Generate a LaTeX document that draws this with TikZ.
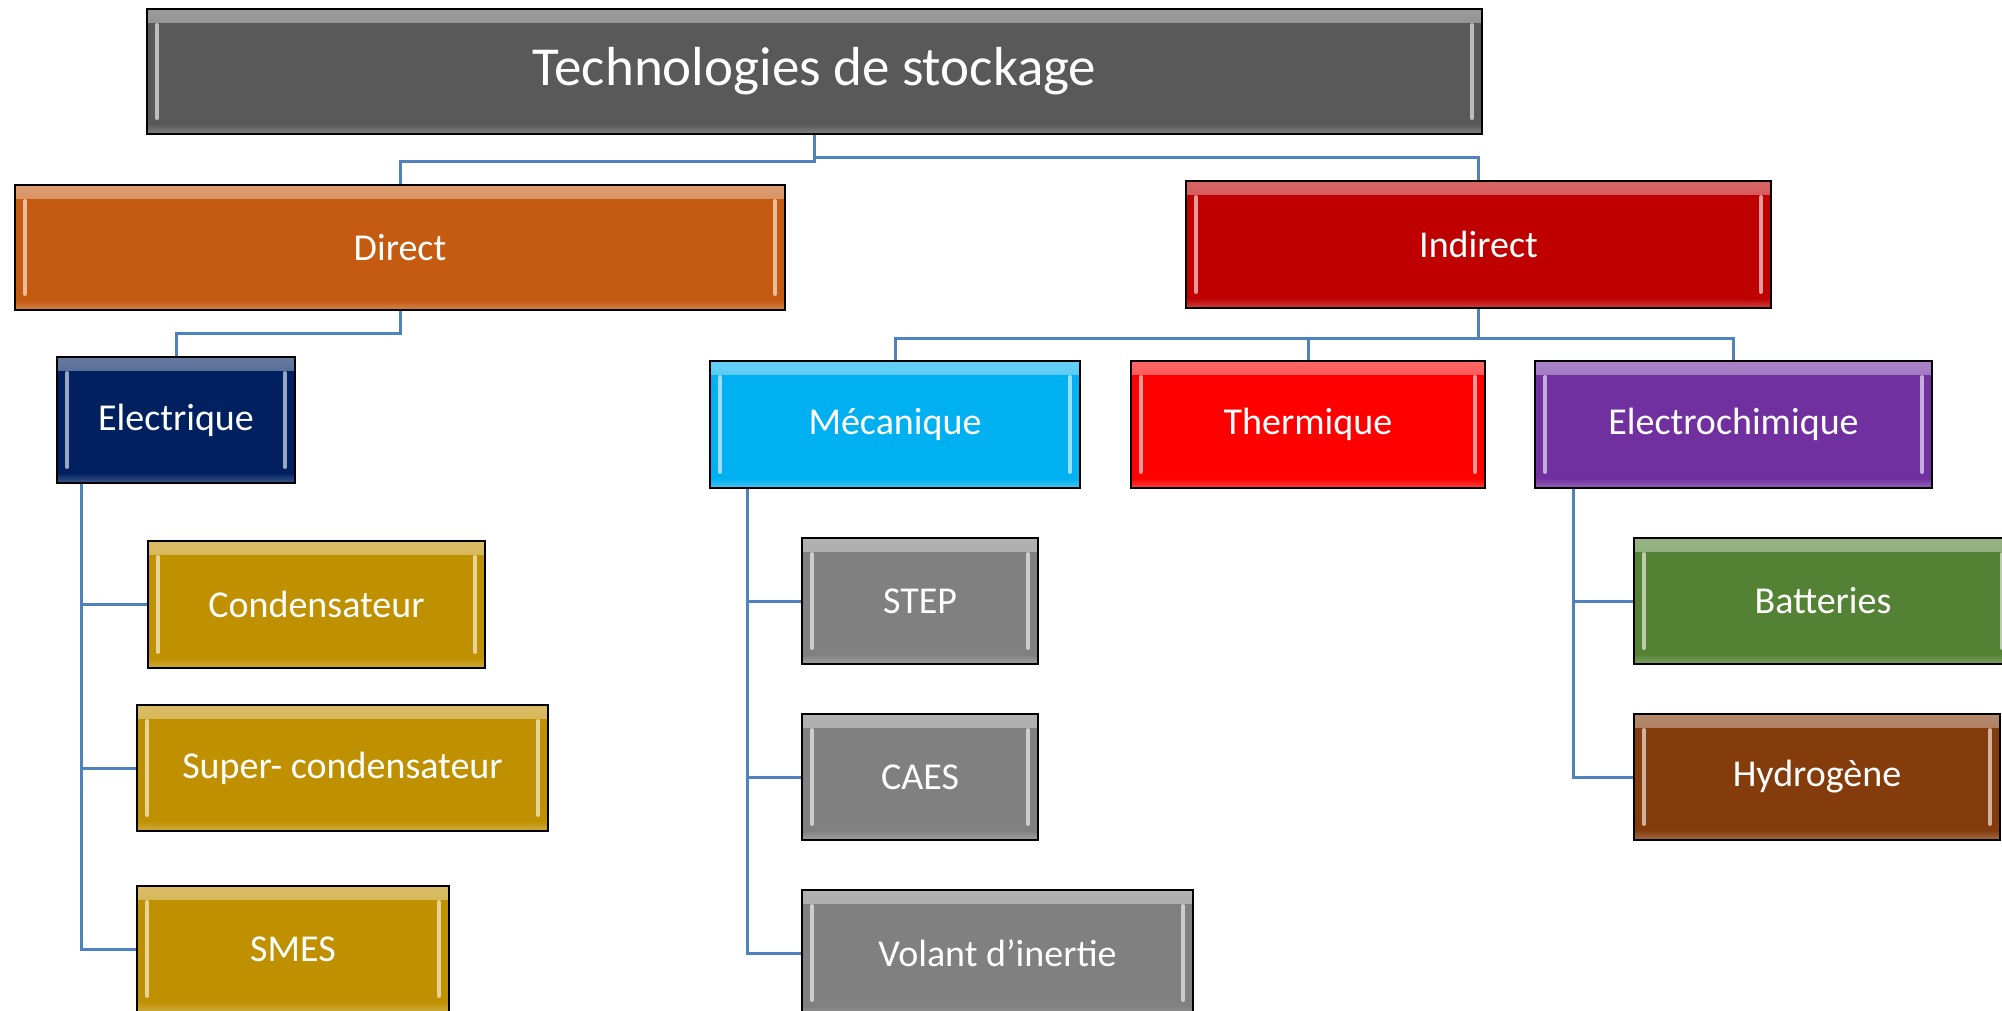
\documentclass[tikz,border=0pt]{standalone}
\usepackage{fontspec}
\setmainfont{Carlito}
\usetikzlibrary{calc}
\definecolor{titlegray}{RGB}{89,89,89}
\definecolor{directorange}{RGB}{197,90,17}
\definecolor{indirectred}{RGB}{190,0,0}
\definecolor{elecblue}{RGB}{0,32,96}
\definecolor{mecacyan}{RGB}{0,176,240}
\definecolor{thermred}{RGB}{255,0,0}
\definecolor{chimpurple}{RGB}{112,48,160}
\definecolor{elecgold}{RGB}{191,144,0}
\definecolor{mecagray}{RGB}{128,128,128}
\definecolor{battgreen}{RGB}{84,130,53}
\definecolor{hydrobrown}{RGB}{132,60,12}
\definecolor{linkblue}{RGB}{79,129,189}
\tikzset{
  box/.style={draw=black,line width=2pt,fill=#1,text=white,inner sep=0pt,
    font=\fontsize{38}{44}\selectfont,
    path picture={
      \shade[top color=white!40!#1,bottom color=#1]
        (path picture bounding box.north west) rectangle ([yshift=-13pt]path picture bounding box.north east);
      \shade[top color=#1,bottom color=white!25!#1]
        ([yshift=10pt]path picture bounding box.south west) rectangle (path picture bounding box.south east);
      \draw[white!60!#1,line width=4pt,line cap=round]
        ([xshift=10pt,yshift=-16pt]path picture bounding box.north west) -- ([xshift=10pt,yshift=16pt]path picture bounding box.south west);
      \draw[white!60!#1,line width=4pt,line cap=round]
        ([xshift=-10pt,yshift=-16pt]path picture bounding box.north east) -- ([xshift=-10pt,yshift=16pt]path picture bounding box.south east);
    }},
  size/.style 2 args={minimum width=#1pt,minimum height=#2pt},
  link/.style={draw=linkblue,line width=3pt}
}

\begin{document}
\begin{tikzpicture}[x=1pt,y=-1pt]
\useasboundingbox (0,0) rectangle (2002,1010);
\clip (0,0) rectangle (2002,1010);
\node[box=titlegray,size={1335}{125},font=\fontsize{55}{62}\selectfont] (title) at (814.5,71.5) {Technologies de stockage};
\node[box=directorange,size={770}{125}] (direct) at (400,247.5) {Direct};
\node[box=indirectred,size={585}{127}] (indirect) at (1478.5,244.5) {Indirect};
\node[box=elecblue,size={238}{126}] (elec) at (176,420) {Electrique};
\node[box=mecacyan,size={370}{127}] (meca) at (895,424.5) {Mécanique};
\node[box=thermred,size={354}{127}] (therm) at (1308,424.5) {Thermique};
\node[box=chimpurple,size={397}{127}] (echim) at (1733.5,424.5) {Electrochimique};
\node[box=elecgold,size={337}{127}] (conde) at (316.5,604.5) {Condensateur};
\node[box=elecgold,size={411}{126}] (super) at (342.5,768) {Super- condensateur};
\node[box=elecgold,size={312}{126}] (smes) at (293,949) {SMES};
\node[box=mecagray,size={236}{126}] (step) at (920,601) {STEP};
\node[box=mecagray,size={236}{126}] (caes) at (920,777) {CAES};
\node[box=mecagray,size={391}{126}] (volant) at (997.5,953) {Volant d’inertie};
\node[box=battgreen,size={378}{126}] (batt) at (1823,601) {Batteries};
\node[box=hydrobrown,size={366}{126}] (hydro) at (1817,777) {Hydrogène};
\draw[link] (title.south) -- ++(0,26) -| (direct.north);
\draw[link] (title.south) -- ++(0,22) -| (indirect.north);
\draw[link] (direct.south) -- ++(0,22) -| (elec.north);
\foreach \n in {meca,therm,echim}
  \draw[link] (indirect.south) -- ++(0,29) -| (\n.north);
\foreach \n in {conde,super,smes}
  \draw[link] ($(elec.south west)+(25,0)$) |- (\n.west);
\foreach \n in {step,caes,volant}
  \draw[link] ($(meca.south west)+(38,0)$) |- (\n.west);
\foreach \n in {batt,hydro}
  \draw[link] ($(echim.south west)+(39,0)$) |- (\n.west);
\end{tikzpicture}
\end{document}
